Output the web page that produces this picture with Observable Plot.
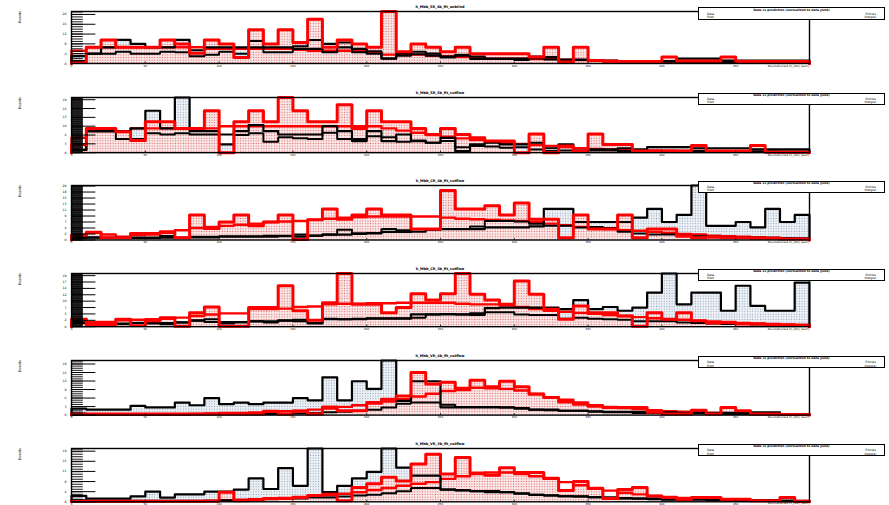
<!DOCTYPE html>
<html><head><meta charset="utf-8">
<script src="https://cdn.jsdelivr.net/npm/d3@7"></script>
<script src="https://cdn.jsdelivr.net/npm/@observablehq/plot@0.6"></script>
<style>
body{margin:0;background:#fff;font-family:"DejaVu Sans",sans-serif}
#wrap{position:relative;width:889px;height:505px;overflow:hidden}
.panel{position:absolute;left:0}
.leg{position:absolute;left:698px;width:187px;border:1.3px solid #000;background:#fff;box-sizing:border-box;font-size:3px;line-height:3.4px}
.leg .hd{position:absolute;left:0;right:0;top:0.5px;text-align:center;font-weight:bold}
.leg .l{position:absolute;left:8px;top:4.5px}
.leg .r{position:absolute;right:8px;top:4.5px;text-align:right}
.ttl{position:absolute;font-size:3.5px;width:200px;margin-left:-100px;text-align:center;font-weight:bold}
.ylab{position:absolute;font-size:3.5px;transform:rotate(-90deg);transform-origin:left top}
.xlab{position:absolute;font-size:2.8px;text-align:right;width:100px;line-height:3px}
</style></head><body>
<svg width="0" height="0" style="position:absolute"><defs>
<pattern id="pinkdots" width="2.6" height="2.6" patternUnits="userSpaceOnUse"><rect width="2.6" height="2.6" fill="#fbe9e9"/><circle cx="1.3" cy="1.3" r="0.65" fill="#dd6a6a"/></pattern>
<pattern id="bluedots" width="2.6" height="2.6" patternUnits="userSpaceOnUse"><rect width="2.6" height="2.6" fill="#eef2f7"/><circle cx="1.3" cy="1.3" r="0.6" fill="#8fa2b8"/></pattern>
</defs></svg>
<div id="wrap"></div>
<script>
// ---- data: 50 bins per histogram, six panels ----
const titles = ["h_Mbb_SR_4b_fit_unblind","h_Mbb_SR_3b_fit_cutflow","h_Mbb_CR_4b_fit_cutflow","h_Mbb_CR_3b_fit_cutflow","h_Mbb_VR_4b_fit_cutflow","h_Mbb_VR_3b_fit_cutflow"];
const yLabel = "Events";
const xLabel = "Reconstructed m_{bb} [GeV]";
const legendHead = "Data vs prediction (normalized to data yield)";
const legendLeft = ["Data", "Pred."];
const legendRight = ["Entries", "Integral"];
const xTickLabels = ["0","50","100","150","200","250","300","350","400","450","500"];

const red1 = [0.2,3.3,4.8,3.3,3.3,3.3,4.8,4.0,2.1,4.8,4.0,1.2,6.9,4.0,6.9,4.3,9.0,3.3,4.8,4.0,3.3,10.6,2.4,4.0,3.3,2.4,3.3,2.0,2.0,2.0,2.0,1.3,3.3,0.3,3.3,0.6,0.5,0.4,0.4,0.4,1.3,0.5,0.5,0.5,1.3,0.4,0.4,0.4,0.4,0.4];
const black1 = [1.5,2.0,3.3,4.8,4.0,3.3,3.3,4.8,2.7,3.3,3.3,3.3,3.3,3.3,3.3,3.0,3.0,4.0,3.3,3.0,2.5,1.0,2.0,2.4,2.0,1.4,1.6,1.4,1.0,1.0,1.0,1.4,1.3,0.8,0.8,0.6,0.6,0.5,0.5,0.5,0.5,1.0,1.0,1.0,0.6,0.6,0.6,0.6,0.6,0.6];
const fit1 = [2.6,3.3,3.3,3.3,3.3,3.3,3.3,3.3,3.3,3.0,3.0,3.0,3.0,3.0,3.0,2.8,2.6,2.6,2.6,2.5,2.2,1.8,1.8,1.8,1.6,1.5,1.3,1.2,1.0,1.0,1.0,0.9,0.9,0.8,0.7,0.6,0.4,0.4,0.4,0.4,0.3,0.3,0.3,0.3,0.3,0.2,0.2,0.2,0.2,0.2];
const mk1 = [0.5,2.0,2.0,2.4,2.0,2.0,2.4,2.3,1.5,1.8,2.4,2.0,4.6,2.3,2.3,3.5,4.8,2.3,4.3,2.3,2.0,1.0,1.6,1.9,1.6,1.2,1.8,0.9,0.9,0.9,0.7,1.0,0.8,0.7,0.7,0.5,0.5,0.4,0.4,0.3,0.4,0.3,0.3,0.3,0.3,0.2,0.2,0.2,0.2,0.2];

const red2 = [1.5,4.4,4.4,3.8,2.2,5.6,5.6,4.4,4.4,7.6,0,5.6,7.6,5.6,10,7.6,5.6,5.6,8.7,4.4,7.6,5.6,5.6,4.4,3.3,4.4,3.3,2.7,2.1,2.1,0,3.4,0,1.2,0.3,3.4,1.5,1.5,0.3,0.3,0.3,0.3,1.3,0.3,0.3,0.3,1.3,0.1,0.1,0.1];
const black2 = [0.5,3.9,3.9,3.9,4.4,7.6,4.4,10,3.9,3.9,1.5,3.9,5.0,3.9,3.3,3.3,3.3,4.8,3.9,2.1,3.9,2.1,3.3,2.1,1.8,2.7,0.3,1.5,1.8,1.5,1.5,1.8,0.3,1.5,0.3,0.6,0.6,0.8,0.6,1.0,1.0,1.0,0.8,0.8,0.8,0.8,0.6,0.6,0.6,0.6];
const fit2 = [2.7,3.9,3.9,3.9,4.4,4.4,4.4,4.4,4.4,4.4,4.8,4.8,4.8,4.8,4.8,4.8,4.8,4.8,4.8,4.8,4.8,4.4,4.0,3.6,3.2,2.9,2.6,2.3,2.0,1.8,1.6,1.4,1.2,1.0,0.8,0.7,0.6,0.5,0.45,0.4,0.35,0.3,0.3,0.25,0.2,0.2,0.2,0.2,0.1,0.1];
const mk2 = [0.5,3.9,3.9,2.5,2.5,3.5,3.3,3.5,3.3,3.3,3.3,3.2,3.5,2.0,2.8,2.6,2.5,3.6,2.5,2.5,3.0,2.8,2.0,2.2,1.8,2.1,1.0,1.2,1.1,0.9,1.0,0.6,0.8,0.4,0.4,0.4,0.4,0.3,0.3,0.3,0.3,0.3,0.3,0.3,0.2,0.2,0.2,0.2,0.2,0.2];

const red3 = [0.9,1.4,0.4,0.4,1.2,1.2,1.5,0.4,4.6,2.1,3.3,4.6,2.6,3.3,4.6,0.1,3.7,5.7,3.8,4.6,5.7,4.6,4.6,2.0,2.0,9.1,5.7,5.7,6.3,4.6,6.8,3.8,3.8,0.4,4.6,2.0,2.0,4.6,0.4,2.0,2.0,0.7,0.4,0.5,0.4,0.4,0.3,0.3,0.2,0.2];
const black3 = [0.4,0.5,0.4,0.4,0.4,0.4,0.7,0.4,0.5,0.5,0.6,0.6,0.6,0.6,0.7,1.0,0.8,1.0,1.0,1.2,1.2,1.5,1.5,2.0,2.0,2.0,2.0,2.0,2.3,2.3,2.3,2.5,5.7,5.7,3.3,3.3,3.3,3.3,4.1,5.7,3.3,4.6,10,2.6,2.6,3.3,2.3,5.7,3.3,4.6];
const fit3 = [0.5,1.3,1.0,0.6,0.9,1.0,1.3,1.8,2.2,2.4,2.6,2.8,3.0,3.3,3.4,3.5,3.7,3.9,4.1,4.2,4.3,4.3,4.3,4.3,4.3,4.1,3.9,3.8,3.7,3.6,3.5,3.3,3.0,2.7,2.4,2.2,2.0,1.8,1.7,1.5,1.3,1.1,1.0,0.8,0.7,0.6,0.5,0.4,0.3,0.2];
const mk3 = [0.4,0.4,0.4,0.4,0.4,0.4,0.4,0.4,0.6,0.6,0.7,0.7,0.7,0.8,0.8,0.6,0.8,1.0,1.9,1.1,1.3,2.0,1.8,1.5,1.9,2.0,2.0,2.5,3.5,3.5,3.4,3.0,2.6,2.6,2.3,2.4,2.2,1.5,1.2,1.0,1.0,0.8,0.7,0.6,0.5,0.5,0.4,0.4,0.3,0.3];

const red4 = [1.4,0.4,0.4,1.4,0.2,1.1,1.7,0.1,2.6,3.7,0.1,0.1,3.6,3.6,7.7,3.0,1.2,4.5,10,4.2,4.2,2.6,3.6,6.2,5.0,6.2,10,6.1,5.0,4.2,8.6,6.1,3.3,1.4,3.9,2.6,2.6,2.0,0.1,2.6,1.4,2.6,1.1,0.7,0.8,0.5,0.5,0.4,0.3,0.3];
const black4 = [0.8,0.3,0.4,0.5,0.7,0.6,0.5,0.8,1.2,1.4,0.6,0.8,1.0,1.0,1.2,1.3,0.6,1.4,1.4,1.4,1.5,1.5,1.5,2.3,2.3,2.3,2.3,2.5,3.5,3.6,3.6,3.6,3.6,3.3,5.0,3.3,3.7,3.0,3.6,6.4,10,4.2,6.4,6.4,3.0,7.7,3.9,3.0,3.0,8.3];
const fit4 = [0.7,0.9,0.9,1.2,1.3,1.4,1.5,1.7,2.0,2.3,2.5,2.5,3.3,3.3,3.4,3.7,3.8,4.2,4.3,4.3,4.4,4.4,4.5,4.5,4.5,4.5,4.3,4.2,4.2,4.0,3.7,3.3,3.0,2.8,2.6,2.4,2.2,2.0,1.8,1.6,1.4,1.3,1.1,1.0,0.9,0.7,0.6,0.5,0.4,0.3];
const mk4 = [0.7,0.4,0.4,0.6,0.7,0.8,0.7,0.8,1.1,0.9,0.9,0.9,1.0,0.8,1.1,1.0,0.7,1.5,1.4,1.5,1.6,1.6,1.6,1.7,2.3,2.4,2.3,2.2,2.7,2.7,2.3,2.2,2.2,1.5,1.7,1.5,1.4,1.3,1.0,1.0,1.0,0.8,0.7,0.6,0.5,0.5,0.4,0.4,0.3,0.3];

const red5 = [0.2,0.2,0.2,0.2,0.2,0.2,0.2,0.2,0.2,0.2,0.2,0.2,0.2,0.7,0.2,0.7,0.2,1.5,0.8,0.8,2.3,2.9,3.5,7.8,5.7,6.0,4.9,6.4,5.2,6.2,5.2,3.8,3.2,2.4,2.0,1.6,1.4,1.4,1.4,0.5,0.2,0.2,0.9,0.2,1.4,0.8,0.2,0.2,0.1,0.1];
const black5 = [1.2,1.0,1.0,1.0,1.7,1.4,1.4,2.3,1.8,3.1,2.0,2.3,2.0,2.3,2.3,3.1,2.7,6.9,2.7,6.2,4.8,10,2.6,6.2,6.2,1.4,1.4,1.4,1.4,1.4,1.2,1.0,1.0,0.8,0.8,0.7,0.6,0.6,0.6,0.5,0.5,0.4,0.5,0.4,0.4,0.4,0.5,0.5,0.2,0.2];
const fit5 = [0.1,0.1,0.1,0.1,0.1,0.1,0.1,0.1,0.2,0.3,0.4,0.4,0.5,0.6,0.7,0.8,1.0,1.2,1.5,1.8,2.1,2.5,2.9,3.4,3.9,4.4,4.6,5.0,4.9,4.8,4.5,3.9,3.3,2.8,2.3,1.8,1.5,1.3,1.1,0.9,0.7,0.6,0.5,0.4,0.3,0.3,0.2,0.2,0.1,0.1];
const mk5 = [0.3,0.2,0.2,0.2,0.2,0.2,0.2,0.2,0.2,0.2,0.2,0.2,0.2,0.2,0.2,0.3,0.4,0.5,0.6,0.8,1.0,1.4,2.1,2.3,2.3,1.9,1.5,1.5,1.5,1.4,1.3,1.0,0.9,0.8,0.8,0.6,0.5,0.5,0.4,0.4,0.3,0.3,0.3,0.2,0.2,0.2,0.2,0.2,0.1,0.1];

const red6 = [0.1,0.1,0.1,0.1,0.1,0.1,0.1,0.1,0.1,0.1,1.8,0.2,0.4,0.6,0.6,0.8,1.2,1.4,0.2,2.7,3.4,4.6,3.9,7.1,8.9,5.2,8.3,5.4,5.0,6.4,5.5,5.5,4.4,2.1,3.8,2.5,0.6,2.3,2.7,1.1,0.8,0.5,0.8,0.8,0.5,0.5,0.2,0.2,0.8,0.1];
const black6 = [1.1,0.6,0.6,0.6,1.0,1.9,0.8,1.4,1.4,1.9,1.9,2.3,4.4,2.4,6.3,3.0,10,1.8,3.0,4.4,5.6,10,6.4,4.9,4.9,2.3,2.2,2.0,2.0,1.8,1.6,1.3,1.2,1.0,1.0,0.9,0.8,0.7,0.6,0.6,0.5,0.4,0.6,0.6,0.4,0.3,0.3,0.3,0.2,0.2];
const fit6 = [0.05,0.05,0.05,0.05,0.05,0.1,0.1,0.1,0.1,0.2,0.3,0.4,0.5,0.6,0.7,0.9,1.0,1.2,1.5,1.8,2.2,2.6,3.0,3.4,3.7,4.3,4.8,5.2,5.5,5.5,5.2,4.8,4.3,3.7,3.1,2.6,2.1,1.7,1.4,1.1,0.9,0.7,0.5,0.4,0.3,0.3,0.2,0.2,0.1,0.1];
const mk6 = [0.3,0.2,0.2,0.2,0.2,0.2,0.2,0.2,0.2,0.2,0.3,0.3,0.4,0.5,0.6,0.6,0.8,0.8,1.0,1.2,1.3,1.6,2.0,2.6,2.6,2.3,2.1,2.0,1.8,1.8,1.5,1.3,1.2,1.1,1.0,0.8,0.8,0.6,0.6,0.5,0.4,0.4,0.4,0.3,0.3,0.2,0.2,0.2,0.2,0.1];

const yMax = [10.6, 10, 10, 10, 10, 10];
const yMajor = [2, 1.6, 1.1, 1.2, 1.56, 1.9];
const yMinor = [0.5, 0.12, 0.12, 0.12, 0.39, 0.47];

// ---- layout ----
const frames = [[11,52],[96.5,55.2],[184.5,54.5],[272.5,53.2],[359.7,54.6],[447.7,53.3]];
const panels = [[red1,black1,fit1,mk1],[red2,black2,fit2,mk2],[red3,black3,fit3,mk3],[red4,black4,fit4,mk4],[red5,black5,fit5,mk5],[red6,black6,fit6,mk6]];
const nBins = 50;
const wrap = document.getElementById("wrap");

function areaData(v){ const d = v.map((y,i)=>({x:i,y})); d.push({x:nBins,y:v[nBins-1]}); return d; }
function lineData(v){ const d=[{x:0,y:0}]; v.forEach((y,i)=>d.push({x:i,y})); d.push({x:nBins,y:v[nBins-1]}); d.push({x:nBins,y:0}); return d; }

panels.forEach(([red,black,fit,mk],p)=>{
  const [ft, fh] = frames[p];
  const mt = 12, mb = 8;
  const ymax = yMax[p];
  const major = d3.range(0, ymax + 1e-9, yMajor[p]);
  const minor = d3.range(0, ymax, yMinor[p]);
  const svg = Plot.plot({
    width: 889, height: mt + fh + mb,
    marginLeft: 71, marginRight: 80, marginTop: mt, marginBottom: mb,
    x: {domain: [0, nBins]},
    y: {domain: [0, ymax]},
    style: {background: "transparent", overflow: "visible", fontFamily: "DejaVu Sans"},
    marks: [
      Plot.areaY(areaData(black), {x:"x", y:"y", curve:"step-after", fill:"url(#bluedots)"}),
      Plot.areaY(areaData(red), {x:"x", y:"y", curve:"step-after", fill:"url(#pinkdots)"}),
      Plot.lineY(lineData(fit), {x:"x", y:"y", curve:"step-after", stroke:"#ff0000", strokeWidth:2.4}),
      Plot.lineY(lineData(mk), {x:"x", y:"y", curve:"step-after", stroke:"#000", strokeWidth:2, strokeDasharray:"1.6 0.9"}),
      Plot.lineY(lineData(black), {x:"x", y:"y", curve:"step-after", stroke:"#000", strokeWidth:2.2}),
      Plot.lineY(lineData(red), {x:"x", y:"y", curve:"step-after", stroke:"#ff0000", strokeWidth:3}),
      Plot.ruleY(minor, {x1:0, x2:0.8, stroke:"#000", strokeWidth:0.9}),
      Plot.ruleY(major, {x1:0, x2:1.65, stroke:"#000", strokeWidth:1}),
      Plot.ruleX(d3.range(0, nBins+1, 5), {y1:0, y2: ymax*0.03, stroke:"#000", strokeWidth:0.8}),
      Plot.axisY({ticks: major, tickSize: 0, tickPadding: 5, fontSize: 3.2, label: null, tickFormat: d => d3.format(".0f")(d*2)}),
      Plot.axisX({ticks: d3.range(0, nBins, 5), tickSize: 0, tickPadding: 1, fontSize: 2.8, label: null, tickFormat: (d,i) => xTickLabels[i]}),
      Plot.frame({stroke:"#000", strokeWidth:1.4})
    ]
  });
  svg.classList.add("panel");
  svg.style.top = (ft - mt) + "px";
  wrap.appendChild(svg);

  const t = document.createElement("div"); t.className = "ttl"; t.textContent = titles[p];
  t.style.left = "440px"; t.style.top = (ft - 6) + "px"; wrap.appendChild(t);

  const yl = document.createElement("div"); yl.className = "ylab"; yl.textContent = yLabel;
  yl.style.left = "18px"; yl.style.top = (ft + 12) + "px"; wrap.appendChild(yl);

  const xl = document.createElement("div"); xl.className = "xlab"; xl.textContent = xLabel;
  xl.style.left = "709px"; xl.style.top = Math.min(ft + fh + 2, 501.5) + "px"; wrap.appendChild(xl);

  const lg = document.createElement("div"); lg.className = "leg";
  lg.style.top = (ft - 4) + "px"; lg.style.height = "12.5px";
  lg.innerHTML = `<div class="hd">${legendHead}</div><div class="l">${legendLeft.join("<br>")}</div><div class="r">${legendRight.join("<br>")}</div>`;
  wrap.appendChild(lg);
});
</script>
</body></html>
